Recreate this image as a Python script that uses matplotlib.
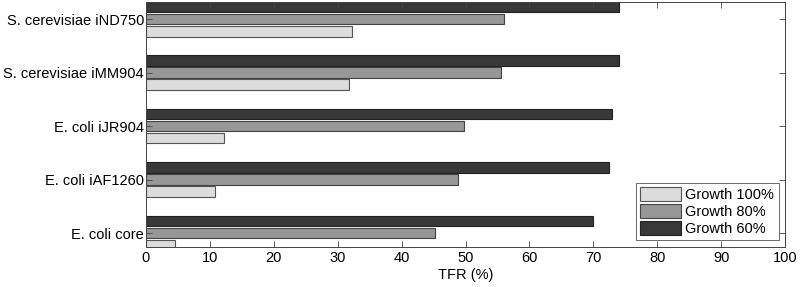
import numpy as np
import matplotlib
matplotlib.use('Agg')
import matplotlib.pyplot as plt

plt.rcParams['font.family'] = ['Liberation Sans', 'DejaVu Sans']

models = ['E. coli core', 'E. coli iAF1260', 'E. coli iJR904',
          'S. cerevisiae iMM904', 'S. cerevisiae iND750']
growth100 = [4.6, 10.8, 12.2, 31.8, 32.3]
growth80 = [45.3, 48.8, 49.8, 55.5, 56.0]
growth60 = [70.0, 72.4, 73.0, 74.0, 74.0]
series_names = ['Growth 100%', 'Growth 80%', 'Growth 60%']
xticks = np.arange(0, 101, 10)

fs = 10.5
fig = plt.figure(figsize=(8.0, 2.87), dpi=100)
ax = fig.add_axes([146/800, 40/287, 639/800, 245/287])

y = np.arange(len(models))
off = 0.225
h = 0.2
ax.barh(y - off, growth100, height=h, color='#dcdcdc', edgecolor='#555555', linewidth=0.8, label=series_names[0])
ax.barh(y, growth80, height=h, color='#979797', edgecolor='#444444', linewidth=0.8, label=series_names[1])
ax.barh(y + off, growth60, height=h, color='#383838', edgecolor='#222222', linewidth=0.8, label=series_names[2])

ax.set_ylim(-0.26, 4.32)
ax.set_xlim(0, 100)
ax.set_xticks(xticks)
ax.set_yticks(y)
ax.set_yticklabels(models, fontsize=fs)
ax.tick_params(axis='x', labelsize=fs, pad=3)
ax.tick_params(axis='y', pad=1.5)
ax.tick_params(direction='in', top=True, right=True, length=4, width=0.6, color='#444444')
ax.set_xlabel('TFR (%)', fontsize=fs, labelpad=2)
for s in ax.spines.values():
    s.set_linewidth(0.7)
    s.set_color('#444444')

leg = ax.legend(loc='lower right', fontsize=fs, fancybox=False, frameon=True,
                edgecolor='#444444', handlelength=2.8, handleheight=1.1,
                borderpad=0.3, labelspacing=0.12, handletextpad=0.3,
                borderaxespad=0, bbox_to_anchor=(0.99, 0.028))
leg.get_frame().set_linewidth(0.7)

fig.savefig('out.png', dpi=100)
